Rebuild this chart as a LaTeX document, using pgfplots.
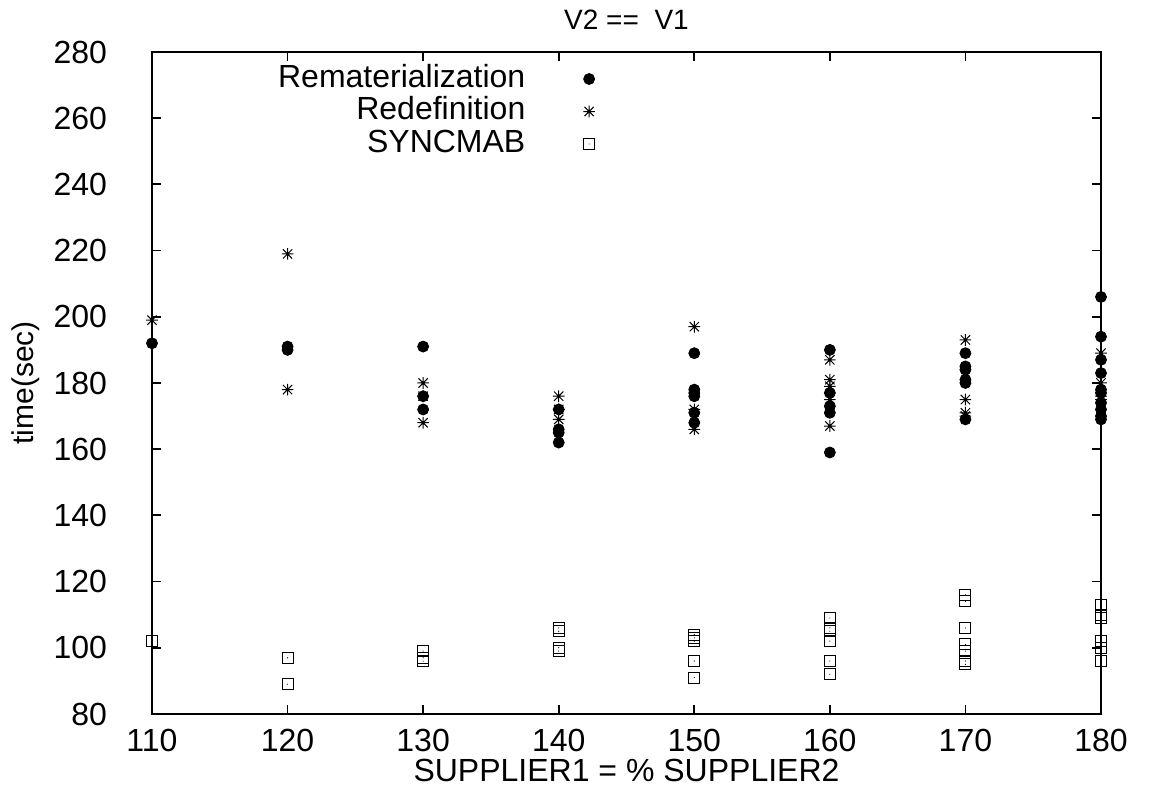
\documentclass[border=0pt]{standalone}
\usepackage{fontspec}
\setmainfont{Liberation Sans}
\usepackage{pgfplots}
\pgfplotsset{compat=1.18}
\pgfdeclareplotmark{sqdot}{%
  \pgfpathrectangle{\pgfpoint{-\pgfplotmarksize}{-\pgfplotmarksize}}{\pgfpoint{2\pgfplotmarksize}{2\pgfplotmarksize}}%
  \pgfusepathqstroke
  \pgfpathcircle{\pgfpointorigin}{0.3pt}\pgfusepathqfill
}
\pgfdeclareplotmark{star8}{%
  \pgfpathmoveto{\pgfpoint{-\pgfplotmarksize}{0pt}}\pgfpathlineto{\pgfpoint{\pgfplotmarksize}{0pt}}%
  \pgfpathmoveto{\pgfpoint{0pt}{-\pgfplotmarksize}}\pgfpathlineto{\pgfpoint{0pt}{\pgfplotmarksize}}%
  \pgfpathmoveto{\pgfpoint{-0.8\pgfplotmarksize}{-0.8\pgfplotmarksize}}\pgfpathlineto{\pgfpoint{0.8\pgfplotmarksize}{0.8\pgfplotmarksize}}%
  \pgfpathmoveto{\pgfpoint{-0.8\pgfplotmarksize}{0.8\pgfplotmarksize}}\pgfpathlineto{\pgfpoint{0.8\pgfplotmarksize}{-0.8\pgfplotmarksize}}%
  \pgfusepathqstroke
}
\begin{document}
\begin{tikzpicture}
\useasboundingbox (-76pt,-41pt) rectangle (500pt,357pt);
\begin{axis}[
  at={(0,0)}, anchor=south west,
  width=474.5pt, height=331pt, scale only axis,
  xmin=110, xmax=180, ymin=80, ymax=280,
  xtick={110,120,...,180}, ytick={80,100,...,280},
  tick align=inside, major tick length=4.5pt,
  tick style={black, line width=0.9pt},
  axis line style={line width=0.9pt},
  font=\fontsize{14}{16.8}\selectfont,
  tick label style={font=\fontsize{16}{19}\selectfont},
  /pgf/number format/assume math mode=true,
  yticklabel style={xshift=-19pt},
  xticklabel style={yshift=-4pt},
  title={V2 ==\ \ V1},
  title style={at={(axis description cs:0.5,1.031)}, anchor=center},
  xlabel={SUPPLIER1 = \% SUPPLIER2},
  xlabel style={at={(axis description cs:0.5,-0.0846)}, anchor=center, font=\fontsize{16}{19}\selectfont},
  ylabel={time(sec)},
  ylabel style={at={(axis description cs:-0.133,0.5)}, anchor=center, font=\fontsize{15}{18}\selectfont},
  clip=false,
  legend plot pos=right, legend cell align=right,
  legend style={at={(0.4735,0.99)}, anchor=north east, draw=none, fill=none,
    row sep=0.25pt, column sep=28pt, nodes={inner sep=1pt, text height=11pt, text depth=3pt},
    font=\fontsize{16}{19}\selectfont},
]
\addplot[only marks, mark=*, mark size=2.75pt, black] coordinates {
(110,192)
(120,191) (120,190)
(130,191) (130,176) (130,172)
(140,172) (140,166) (140,165) (140,162)
(150,189) (150,178) (150,177) (150,176) (150,171) (150,168)
(160,190) (160,177) (160,173) (160,171) (160,159)
(170,189) (170,185) (170,184) (170,181) (170,180) (170,169)
(180,206) (180,194) (180,187) (180,183) (180,178) (180,177) (180,174) (180,172) (180,170) (180,169)
};
\addlegendentry{Rematerialization}
\addplot[only marks, mark=star8, mark size=2.9pt, black, line width=0.5pt] coordinates {
(110,199)
(120,219) (120,178)
(130,180) (130,176) (130,168)
(140,176) (140,172) (140,169)
(150,197) (150,172) (150,166)
(160,187) (160,181) (160,179) (160,175) (160,167)
(170,193) (170,175) (170,171) (170,170)
(180,189) (180,180) (180,176) (180,175)
};
\addlegendentry{Redefinition}
\addplot[only marks, mark=sqdot, mark size=2.75pt, black, line width=0.5pt] coordinates {
(110,102)
(120,97) (120,89)
(130,99) (130,97) (130,96)
(140,106) (140,105) (140,100) (140,99)
(150,104) (150,103) (150,102) (150,96) (150,91)
(160,109) (160,106) (160,105) (160,102) (160,96) (160,92)
(170,116) (170,114) (170,106) (170,101) (170,99) (170,96) (170,95)
(180,113) (180,110) (180,109) (180,102) (180,100) (180,96)
};
\addlegendentry{SYNCMAB}
\end{axis}
\end{tikzpicture}
\end{document}
